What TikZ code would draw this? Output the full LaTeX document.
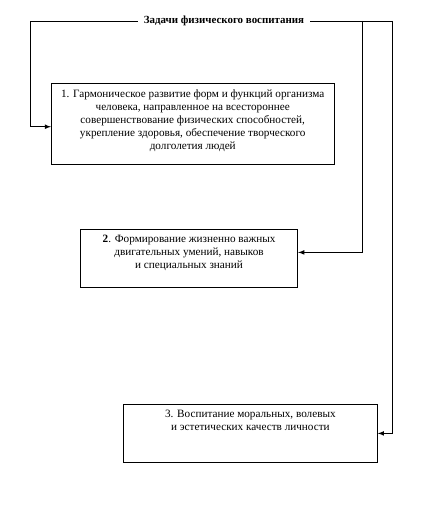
\documentclass[tikz,border=0pt]{standalone}
\usepackage{fontspec}
\setmainfont{Liberation Serif}
\tikzset{
  taskbox/.style={draw, line width=0.6pt, inner sep=0pt, anchor=north west},
  tasktext/.style={anchor=north, align=center, inner sep=0pt, font=\fontsize{8.4}{9.8}\selectfont},
  link/.style={line width=0.6pt, -latex}
}
\begin{document}
\begin{tikzpicture}[x=0.75pt, y=-0.75pt]
\useasboundingbox (0,0) rectangle (435,520);
% title
\node (title) at (224,21) [inner xsep=4.5pt, font=\fontsize{8.2}{10}\selectfont\bfseries] {Задачи физического воспитания};
\coordinate (left) at (30,21);
\coordinate (mid) at (362,21);
\coordinate (right) at (392,21);

% boxes
\node (box1) at (51,83) [taskbox, minimum width=212pt, minimum height=61pt] {};
\node (t1) at ([yshift=-4.5pt]box1.north) [tasktext]
  {1. Гармоническое развитие форм и функций организма\\
   человека, направленное на всестороннее\\
   совершенствование физических способностей,\\
   укрепление здоровья, обеспечение творческого\\
   долголетия людей};
\node (box2) at (80,229) [taskbox, minimum width=163pt, minimum height=43.5pt] {};
\node (t2) at ([yshift=-4.5pt]box2.north) [tasktext]
  {\textbf{2}. Формирование жизненно важных\\
   двигательных умений, навыков\\
   и специальных знаний};
\node (box3) at (123,404) [taskbox, minimum width=190.5pt, minimum height=43.5pt] {};
\node (t3) at ([yshift=-4.5pt]box3.north) [tasktext]
  {3. Воспитание моральных, волевых\\
   и эстетических качеств личности};

% connectors
\draw [link] (title.west) -- (left) |- ([yshift=-2pt]box1.west);
\draw [line width=0.6pt] (title.east) -- (right);
\draw [link] (mid) |- ([yshift=4.5pt]box2.east);
\draw [link] (right) |- (box3.east);
\end{tikzpicture}
\end{document}
